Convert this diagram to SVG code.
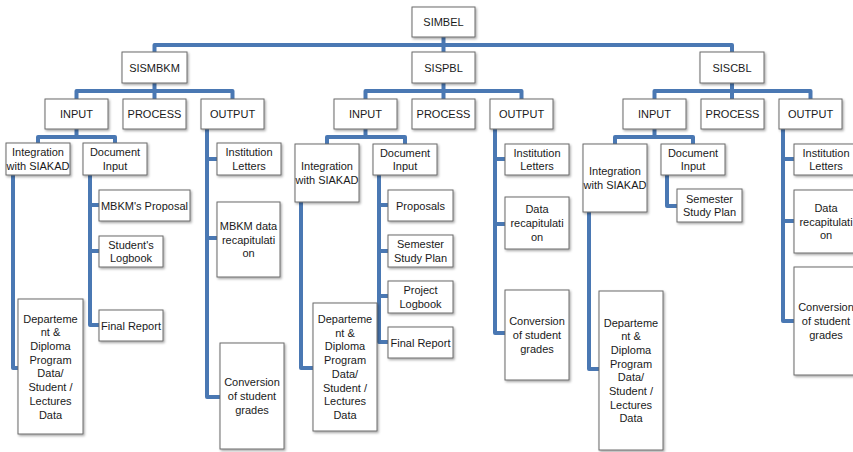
<svg xmlns="http://www.w3.org/2000/svg" width="853" height="452" viewBox="0 0 853 452">
<defs>
<filter id="sh" x="-20%" y="-20%" width="140%" height="140%">
<feDropShadow dx="1.2" dy="1.5" stdDeviation="0.8" flood-color="#000" flood-opacity="0.35"/>
</filter>
<style>
.b{fill:#fff;stroke:#6b6b6b;stroke-width:1;filter:url(#sh)}
.t{font-family:"Liberation Sans",Arial,sans-serif;font-size:11px;fill:#1a1a1a;text-anchor:middle}
.c{fill:none;stroke:#4a78b3;stroke-width:4;stroke-linejoin:round;stroke-linecap:butt}
</style>
</defs>
<rect width="853" height="452" fill="#fff"/>
<g id="connectors">
<path class="c" d="M154.5,52 V45 H732 V52 M443.5,37 V52"/>
<path class="c" d="M76.5,99 V91 H232.5 V99 M154.5,83 V99"/>
<path class="c" d="M365.5,99 V91 H521.5 V99 M443.5,83 V99"/>
<path class="c" d="M654.5,99 V91 H810.5 V99 M732,83 V99"/>
<path class="c" d="M38,143 V137 H115 V143 M76.5,129 V137"/>
<path class="c" d="M327,144 V137 H405 V144 M365.5,129 V137"/>
<path class="c" d="M615,144 V137 H693 V144 M654.5,129 V137"/>
<path class="c" d="M13,175 V368 H18"/>
<path class="c" d="M90,175 V325 H99 M90,205 H99 M90,251 H99"/>
<path class="c" d="M207,129 V397 H220 M207,159 H217 M207,238 H217"/>
<path class="c" d="M301,202 V368 H313"/>
<path class="c" d="M379,175 V342 H388 M379,205 H388 M379,251 H388 M379,296 H388"/>
<path class="c" d="M495,129 V333 H505 M495,159 H505 M495,224 H505"/>
<path class="c" d="M589,212 V369 H599"/>
<path class="c" d="M667,175 V206 H677"/>
<path class="c" d="M783,129 V321 H794 M783,159 H794 M783,221 H794"/>
</g>
<g id="simbel"><rect class="b" x="412" y="7" width="63" height="30"/><text class="t" x="443.5" y="26">SIMBEL</text></g>
<g id="sismbkm"><rect class="b" x="122" y="52" width="65" height="31"/><text class="t" x="154.5" y="71.5">SISMBKM</text></g>
<g id="sispbl"><rect class="b" x="412" y="52" width="63" height="31"/><text class="t" x="443.5" y="71.5">SISPBL</text></g>
<g id="siscbl"><rect class="b" x="700" y="52" width="64" height="31"/><text class="t" x="732" y="71.5">SISCBL</text></g>

<g id="mbkm-input"><rect class="b" x="45" y="99" width="63" height="30"/><text class="t" x="76.5" y="118">INPUT</text></g>
<g id="mbkm-process"><rect class="b" x="123" y="99" width="63" height="30"/><text class="t" x="154.5" y="118">PROCESS</text></g>
<g id="mbkm-output"><rect class="b" x="201" y="99" width="63" height="30"/><text class="t" x="232.5" y="118">OUTPUT</text></g>
<g id="pbl-input"><rect class="b" x="334" y="99" width="63" height="30"/><text class="t" x="365.5" y="118">INPUT</text></g>
<g id="pbl-process"><rect class="b" x="412" y="99" width="63" height="30"/><text class="t" x="443.5" y="118">PROCESS</text></g>
<g id="pbl-output"><rect class="b" x="490" y="99" width="63" height="30"/><text class="t" x="521.5" y="118">OUTPUT</text></g>
<g id="cbl-input"><rect class="b" x="623" y="99" width="63" height="30"/><text class="t" x="654.5" y="118">INPUT</text></g>
<g id="cbl-process"><rect class="b" x="701" y="99" width="63" height="30"/><text class="t" x="732.5" y="118">PROCESS</text></g>
<g id="cbl-output"><rect class="b" x="779" y="99" width="63" height="30"/><text class="t" x="810.5" y="118">OUTPUT</text></g>

<g id="mbkm-integration"><rect class="b" x="6" y="143" width="64" height="32"/><text class="t" x="38" y="156.2">Integration<tspan x="38" dy="13.7">with SIAKAD</tspan></text></g>
<g id="mbkm-document"><rect class="b" x="83" y="143" width="64" height="32"/><text class="t" x="115" y="156.2">Document<tspan x="115" dy="13.7">Input</tspan></text></g>
<g id="mbkm-dept"><rect class="b" x="18" y="299" width="65" height="135"/><text class="t" x="50.5" y="322.6">Departeme<tspan x="50.5" dy="13.7">nt &amp;</tspan><tspan x="50.5" dy="13.7">Diploma</tspan><tspan x="50.5" dy="13.7">Program</tspan><tspan x="50.5" dy="13.7">Data/</tspan><tspan x="50.5" dy="13.7">Student /</tspan><tspan x="50.5" dy="13.7">Lectures</tspan><tspan x="50.5" dy="13.7">Data</tspan></text></g>
<g id="mbkm-proposal"><rect class="b" x="99" y="190" width="91" height="31"/><text class="t" x="144.5" y="209.5">MBKM's Proposal</text></g>
<g id="mbkm-logbook"><rect class="b" x="99" y="236" width="64" height="31"/><text class="t" x="131" y="248.6">Student's<tspan x="131" dy="13.7">Logbook</tspan></text></g>
<g id="mbkm-final"><rect class="b" x="99" y="310" width="64" height="31"/><text class="t" x="131" y="329.5">Final Report</text></g>
<g id="mbkm-letters"><rect class="b" x="217" y="143" width="64" height="32"/><text class="t" x="249" y="156.2">Institution<tspan x="249" dy="13.7">Letters</tspan></text></g>
<g id="mbkm-recap"><rect class="b" x="217" y="202" width="63" height="75"/><text class="t" x="248.5" y="229.8">MBKM data<tspan x="248.5" dy="13.7">recapitulati</tspan><tspan x="248.5" dy="13.7">on</tspan></text></g>
<g id="mbkm-conversion"><rect class="b" x="220" y="343" width="64" height="106"/><text class="t" x="252" y="386.3">Conversion<tspan x="252" dy="13.7">of student</tspan><tspan x="252" dy="13.7">grades</tspan></text></g>

<g id="pbl-integration"><rect class="b" x="295" y="144" width="64" height="58"/><text class="t" x="327" y="170.2">Integration<tspan x="327" dy="13.7">with SIAKAD</tspan></text></g>
<g id="pbl-document"><rect class="b" x="373" y="144" width="64" height="31"/><text class="t" x="405" y="156.6">Document<tspan x="405" dy="13.7">Input</tspan></text></g>
<g id="pbl-dept"><rect class="b" x="313" y="303" width="64" height="128"/><text class="t" x="345" y="323">Departeme<tspan x="345" dy="13.7">nt &amp;</tspan><tspan x="345" dy="13.7">Diploma</tspan><tspan x="345" dy="13.7">Program</tspan><tspan x="345" dy="13.7">Data/</tspan><tspan x="345" dy="13.7">Student /</tspan><tspan x="345" dy="13.7">Lectures</tspan><tspan x="345" dy="13.7">Data</tspan></text></g>
<g id="pbl-proposals"><rect class="b" x="388" y="190" width="65" height="31"/><text class="t" x="420.5" y="209.5">Proposals</text></g>
<g id="pbl-semester"><rect class="b" x="388" y="235" width="65" height="32"/><text class="t" x="420.5" y="248.2">Semester<tspan x="420.5" dy="13.7">Study Plan</tspan></text></g>
<g id="pbl-project"><rect class="b" x="388" y="281" width="65" height="32"/><text class="t" x="420.5" y="294.2">Project<tspan x="420.5" dy="13.7">Logbook</tspan></text></g>
<g id="pbl-final"><rect class="b" x="388" y="327" width="65" height="31"/><text class="t" x="420.5" y="346.5">Final Report</text></g>
<g id="pbl-letters"><rect class="b" x="505" y="144" width="64" height="31"/><text class="t" x="537" y="156.6">Institution<tspan x="537" dy="13.7">Letters</tspan></text></g>
<g id="pbl-recap"><rect class="b" x="505" y="197" width="64" height="52"/><text class="t" x="537" y="213.3">Data<tspan x="537" dy="13.7">recapitulati</tspan><tspan x="537" dy="13.7">on</tspan></text></g>
<g id="pbl-conversion"><rect class="b" x="505" y="290" width="64" height="90"/><text class="t" x="537" y="325.3">Conversion<tspan x="537" dy="13.7">of student</tspan><tspan x="537" dy="13.7">grades</tspan></text></g>

<g id="cbl-integration"><rect class="b" x="583" y="144" width="64" height="68"/><text class="t" x="615" y="175.2">Integration<tspan x="615" dy="13.7">with SIAKAD</tspan></text></g>
<g id="cbl-document"><rect class="b" x="661" y="144" width="64" height="31"/><text class="t" x="693" y="156.6">Document<tspan x="693" dy="13.7">Input</tspan></text></g>
<g id="cbl-semester"><rect class="b" x="677" y="189" width="65" height="33"/><text class="t" x="709.5" y="202.6">Semester<tspan x="709.5" dy="13.7">Study Plan</tspan></text></g>
<g id="cbl-dept"><rect class="b" x="599" y="291" width="64" height="159"/><text class="t" x="631" y="326.5">Departeme<tspan x="631" dy="13.7">nt &amp;</tspan><tspan x="631" dy="13.7">Diploma</tspan><tspan x="631" dy="13.7">Program</tspan><tspan x="631" dy="13.7">Data/</tspan><tspan x="631" dy="13.7">Student /</tspan><tspan x="631" dy="13.7">Lectures</tspan><tspan x="631" dy="13.7">Data</tspan></text></g>
<g id="cbl-letters"><rect class="b" x="794" y="144" width="64" height="31"/><text class="t" x="826" y="156.6">Institution<tspan x="826" dy="13.7">Letters</tspan></text></g>
<g id="cbl-recap"><rect class="b" x="794" y="190" width="64" height="63"/><text class="t" x="826" y="211.8">Data<tspan x="826" dy="13.7">recapitulati</tspan><tspan x="826" dy="13.7">on</tspan></text></g>
<g id="cbl-conversion"><rect class="b" x="794" y="267" width="64" height="108"/><text class="t" x="826" y="311.3">Conversion<tspan x="826" dy="13.7">of student</tspan><tspan x="826" dy="13.7">grades</tspan></text></g>
</svg>
